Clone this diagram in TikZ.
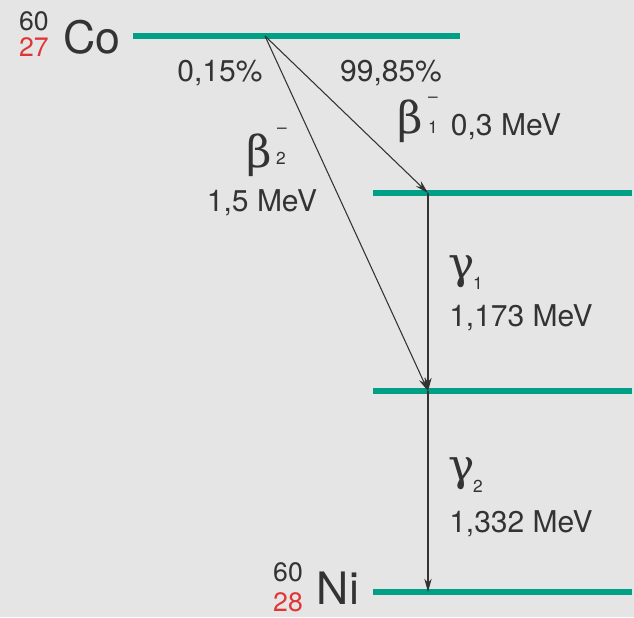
\documentclass[tikz,border=0pt]{standalone}
\usepackage{fontspec}
\setmainfont{TeX Gyre Heros}
\newfontfamily\greekfont{DejaVu Serif}
\usetikzlibrary{arrows.meta,positioning}
\definecolor{bggray}{HTML}{E5E5E5}
\definecolor{levelteal}{HTML}{00A087}
\definecolor{textgray}{HTML}{333333}
\definecolor{zred}{HTML}{E03535}

\begin{document}
\begin{tikzpicture}[
    x=0.75pt, y=-0.75pt,
    level/.style={draw=levelteal, line width=4.2pt},
    arrow/.style={-{Stealth[length=10pt,width=5.5pt]}, draw=textgray, line width=0.8pt},
    label/.style={inner sep=0pt, text=textgray, font=\fontsize{22.5}{26}\selectfont},
    element/.style={inner sep=0pt, text=textgray, font=\fontsize{33.5}{38}\selectfont},
    massnum/.style={inner sep=0pt, text=textgray, font=\fontsize{20}{24}\selectfont},
    atomnum/.style={inner sep=0pt, text=zred, font=\fontsize{20}{24}\selectfont},
    greek/.style={inner sep=0pt, text=textgray, font=\greekfont\fontsize{33}{38}\selectfont},
    index/.style={inner sep=0pt, text=textgray, font=\fontsize{13}{15}\selectfont}
]
\useasboundingbox[fill=bggray] (0,0) rectangle (634,617);

% energy levels
\coordinate (co l) at (133,36);
\coordinate (co r) at (460,36);
\coordinate (ex1 l) at (373,193);
\coordinate (ex1 r) at (632,193);
\coordinate (ex2 l) at (373,391);
\coordinate (ex2 r) at (632,391);
\coordinate (ni l) at (373,592);
\coordinate (ni r) at (632,592);
\draw[level] (co l) -- (co r);
\draw[level] (ex1 l) -- (ex1 r);
\draw[level] (ex2 l) -- (ex2 r);
\draw[level] (ni l) -- (ni r);

% transition points
\coordinate (branch) at (265,36);
\coordinate (hit1) at (428,193);
\coordinate (hit2) at (428,391);
\coordinate (hit3) at (428,592);

% isotopes
\node[element] (co) at (92,37) {Co};
\node[massnum] (co A) at (34,21) {60};
\node[atomnum] (co Z) at (34,47) {27};
\node[element] (ni) at (338,588) {Ni};
\node[massnum] (ni A) at (288,572) {60};
\node[atomnum] (ni Z) at (288,602) {28};

% decays
\draw[arrow] (branch) -- (hit1);
\draw[arrow] (branch) -- (hit2);
\draw[arrow] (hit1) -- (hit2);
\draw[arrow] (hit2) -- (hit3);

% labels
\node[label] (p2) at (220,73) {0,15\%};
\node[label] (p1) at (391,73) {99,85\%};
\node[greek] (b1) at (410,121) {β};
\node[index] (b1 sup) at (433,100) {\textendash};
\node[index] (b1 sub) at (433,127) {1};
\node[label] (e b1) at (506,127) {0,3 MeV};
\node[greek] (b2) at (259,155) {β};
\node[index] (b2 sup) at (282,131) {\textendash};
\node[index] (b2 sub) at (281,158) {2};
\node[label] (e b2) at (262,203) {1,5 MeV};
\node[greek] (g1) at (462,272) {γ};
\node[index] (g1 sub) at (478,283) {1};
\node[label] (e g1) at (521,318) {1,173 MeV};
\node[greek] (g2) at (462,474) {γ};
\node[index] (g2 sub) at (478,486) {2};
\node[label] (e g2) at (521,524) {1,332 MeV};

\end{tikzpicture}
\end{document}
